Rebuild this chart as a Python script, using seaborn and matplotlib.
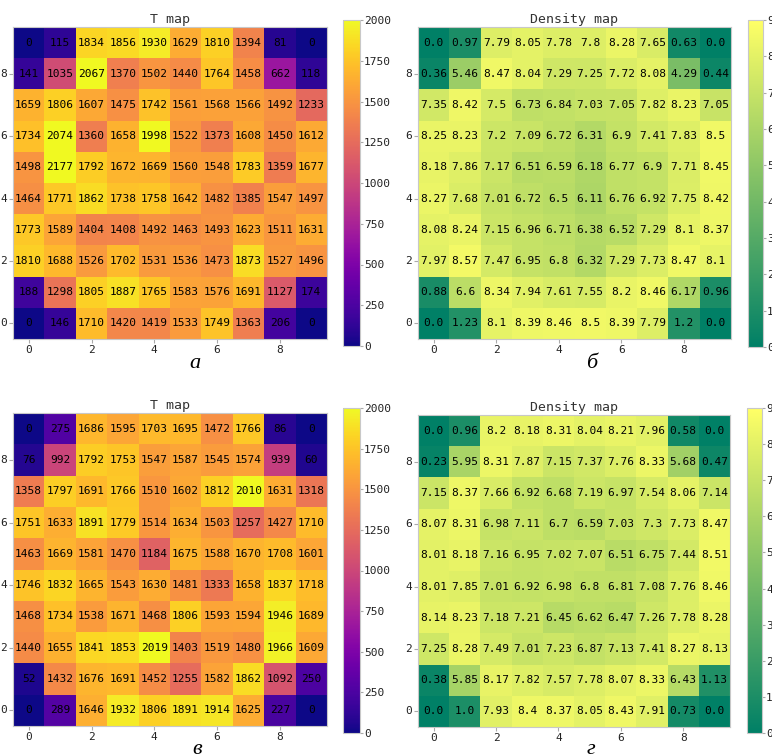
import numpy as np
import matplotlib
matplotlib.use("Agg")
import matplotlib.pyplot as plt
import seaborn as sns

# Rows listed top-to-bottom as displayed (grid row 9 first, row 0 last)
t_map_a = [
    [0, 115, 1834, 1856, 1930, 1629, 1810, 1394, 81, 0],
    [141, 1035, 2067, 1370, 1502, 1440, 1764, 1458, 662, 118],
    [1659, 1806, 1607, 1475, 1742, 1561, 1568, 1566, 1492, 1233],
    [1734, 2074, 1360, 1658, 1998, 1522, 1373, 1608, 1450, 1612],
    [1498, 2177, 1792, 1672, 1669, 1560, 1548, 1783, 1359, 1677],
    [1464, 1771, 1862, 1738, 1758, 1642, 1482, 1385, 1547, 1497],
    [1773, 1589, 1404, 1408, 1492, 1463, 1493, 1623, 1511, 1631],
    [1810, 1688, 1526, 1702, 1531, 1536, 1473, 1873, 1527, 1496],
    [188, 1298, 1805, 1887, 1765, 1583, 1576, 1691, 1127, 174],
    [0, 146, 1710, 1420, 1419, 1533, 1749, 1363, 206, 0],
]
density_b = [
    [0.0, 0.97, 7.79, 8.05, 7.78, 7.8, 8.28, 7.65, 0.63, 0.0],
    [0.36, 5.46, 8.47, 8.04, 7.29, 7.25, 7.72, 8.08, 4.29, 0.44],
    [7.35, 8.42, 7.5, 6.73, 6.84, 7.03, 7.05, 7.82, 8.23, 7.05],
    [8.25, 8.23, 7.2, 7.09, 6.72, 6.31, 6.9, 7.41, 7.83, 8.5],
    [8.18, 7.86, 7.17, 6.51, 6.59, 6.18, 6.77, 6.9, 7.71, 8.45],
    [8.27, 7.68, 7.01, 6.72, 6.5, 6.11, 6.76, 6.92, 7.75, 8.42],
    [8.08, 8.24, 7.15, 6.96, 6.71, 6.38, 6.52, 7.29, 8.1, 8.37],
    [7.97, 8.57, 7.47, 6.95, 6.8, 6.32, 7.29, 7.73, 8.47, 8.1],
    [0.88, 6.6, 8.34, 7.94, 7.61, 7.55, 8.2, 8.46, 6.17, 0.96],
    [0.0, 1.23, 8.1, 8.39, 8.46, 8.5, 8.39, 7.79, 1.2, 0.0],
]
t_map_c = [
    [0, 275, 1686, 1595, 1703, 1695, 1472, 1766, 86, 0],
    [76, 992, 1792, 1753, 1547, 1587, 1545, 1574, 939, 60],
    [1358, 1797, 1691, 1766, 1510, 1602, 1812, 2010, 1631, 1318],
    [1751, 1633, 1891, 1779, 1514, 1634, 1503, 1257, 1427, 1710],
    [1463, 1669, 1581, 1470, 1184, 1675, 1588, 1670, 1708, 1601],
    [1746, 1832, 1665, 1543, 1630, 1481, 1333, 1658, 1837, 1718],
    [1468, 1734, 1538, 1671, 1468, 1806, 1593, 1594, 1946, 1689],
    [1440, 1655, 1841, 1853, 2019, 1403, 1519, 1480, 1966, 1609],
    [52, 1432, 1676, 1691, 1452, 1255, 1582, 1862, 1092, 250],
    [0, 289, 1646, 1932, 1806, 1891, 1914, 1625, 227, 0],
]
density_d = [
    [0.0, 0.96, 8.2, 8.18, 8.31, 8.04, 8.21, 7.96, 0.58, 0.0],
    [0.23, 5.95, 8.31, 7.87, 7.15, 7.37, 7.76, 8.33, 5.68, 0.47],
    [7.15, 8.37, 7.66, 6.92, 6.68, 7.19, 6.97, 7.54, 8.06, 7.14],
    [8.07, 8.31, 6.98, 7.11, 6.7, 6.59, 7.03, 7.3, 7.73, 8.47],
    [8.01, 8.18, 7.16, 6.95, 7.02, 7.07, 6.51, 6.75, 7.44, 8.51],
    [8.01, 7.85, 7.01, 6.92, 6.98, 6.8, 6.81, 7.08, 7.76, 8.46],
    [8.14, 8.23, 7.18, 7.21, 6.45, 6.62, 6.47, 7.26, 7.78, 8.28],
    [7.25, 8.28, 7.49, 7.01, 7.23, 6.87, 7.13, 7.41, 8.27, 8.13],
    [0.38, 5.85, 8.17, 7.82, 7.57, 7.78, 8.07, 8.33, 6.43, 1.13],
    [0.0, 1.0, 7.93, 8.4, 8.37, 8.05, 8.43, 7.91, 0.73, 0.0],
]

axis_ticks = [0, 2, 4, 6, 8]
t_cbar_ticks = [0, 250, 500, 750, 1000, 1250, 1500, 1750, 2000]
d_cbar_ticks = [0, 1, 2, 3, 4, 5, 6, 7, 8, 9]
panel_letters = ["а", "б", "в", "г"]
titles = ["T map", "Density map", "T map", "Density map"]

plt.rcParams["font.family"] = ["DejaVu Sans Mono"]

W, H = 772, 756
fig = plt.figure(figsize=(W / 100, H / 100), dpi=100)


def rect(l, t, r, b):
    return [l / W, 1 - b / H, (r - l) / W, (b - t) / H]


panels = [
    (t_map_a, "plasma", 0, 2000, t_cbar_ticks, (13, 27, 327, 339), (343, 20, 360, 346), (195, 364), "int"),
    (density_b, "summer", 0, 9, d_cbar_ticks, (418, 27, 731, 339), (748, 20, 763, 347), (592, 364), "float"),
    (t_map_c, "plasma", 0, 2000, t_cbar_ticks, (13, 413, 327, 726), (343, 408, 360, 733), (197, 749), "int"),
    (density_d, "summer", 0, 9, d_cbar_ticks, (418, 415, 730, 727), (747, 408, 762, 733), (591, 749), "float"),
]

gray = "#aaaaaa"
for i, (data, cmap, vmin, vmax, cticks, axr, cbr, lab, kind) in enumerate(panels):
    arr = np.array(data, dtype=float)
    if kind == "int":
        labels = np.array([[str(int(v)) for v in row] for row in data])
    else:
        labels = np.array([[str(float(v)) for v in row] for row in data])
    ax = fig.add_axes(rect(*axr))
    cax = fig.add_axes(rect(*cbr))
    sns.heatmap(arr, ax=ax, cbar_ax=cax, cmap=cmap, vmin=vmin, vmax=vmax,
                annot=labels, fmt="", annot_kws={"color": "black", "fontsize": 8,
                                                 "family": "DejaVu Sans Mono"})
    n = arr.shape[0]
    ax.set_xticks([t + 0.5 for t in axis_ticks])
    ax.set_xticklabels([str(t) for t in axis_ticks], rotation=0)
    ax.set_yticks([(n - 1 - t) + 0.5 for t in axis_ticks])
    ax.set_yticklabels([str(t) for t in axis_ticks], rotation=0)
    ax.tick_params(labelsize=8, length=3, width=0.8, color=gray, pad=1.5, labelcolor="#222222")
    for s in ax.spines.values():
        s.set_visible(True)
        s.set_edgecolor("#c8c8c8")
        s.set_linewidth(0.8)
    ax.set_title(titles[i], fontsize=9.5, pad=3, color="#333333")
    cbar = ax.collections[0].colorbar
    cbar.set_ticks(cticks)
    cbar.ax.minorticks_off()
    cbar.outline.set_edgecolor("#c8c8c8")
    cbar.outline.set_linewidth(0.8)
    cax.tick_params(labelsize=8, length=2, width=0.8, color=gray, pad=1, labelcolor="#222222")
    fig.text(lab[0] / W, 1 - lab[1] / H, panel_letters[i], family="Liberation Serif",
             style="italic", fontsize=16, ha="center", va="center")

fig.savefig("out.png", dpi=100)
